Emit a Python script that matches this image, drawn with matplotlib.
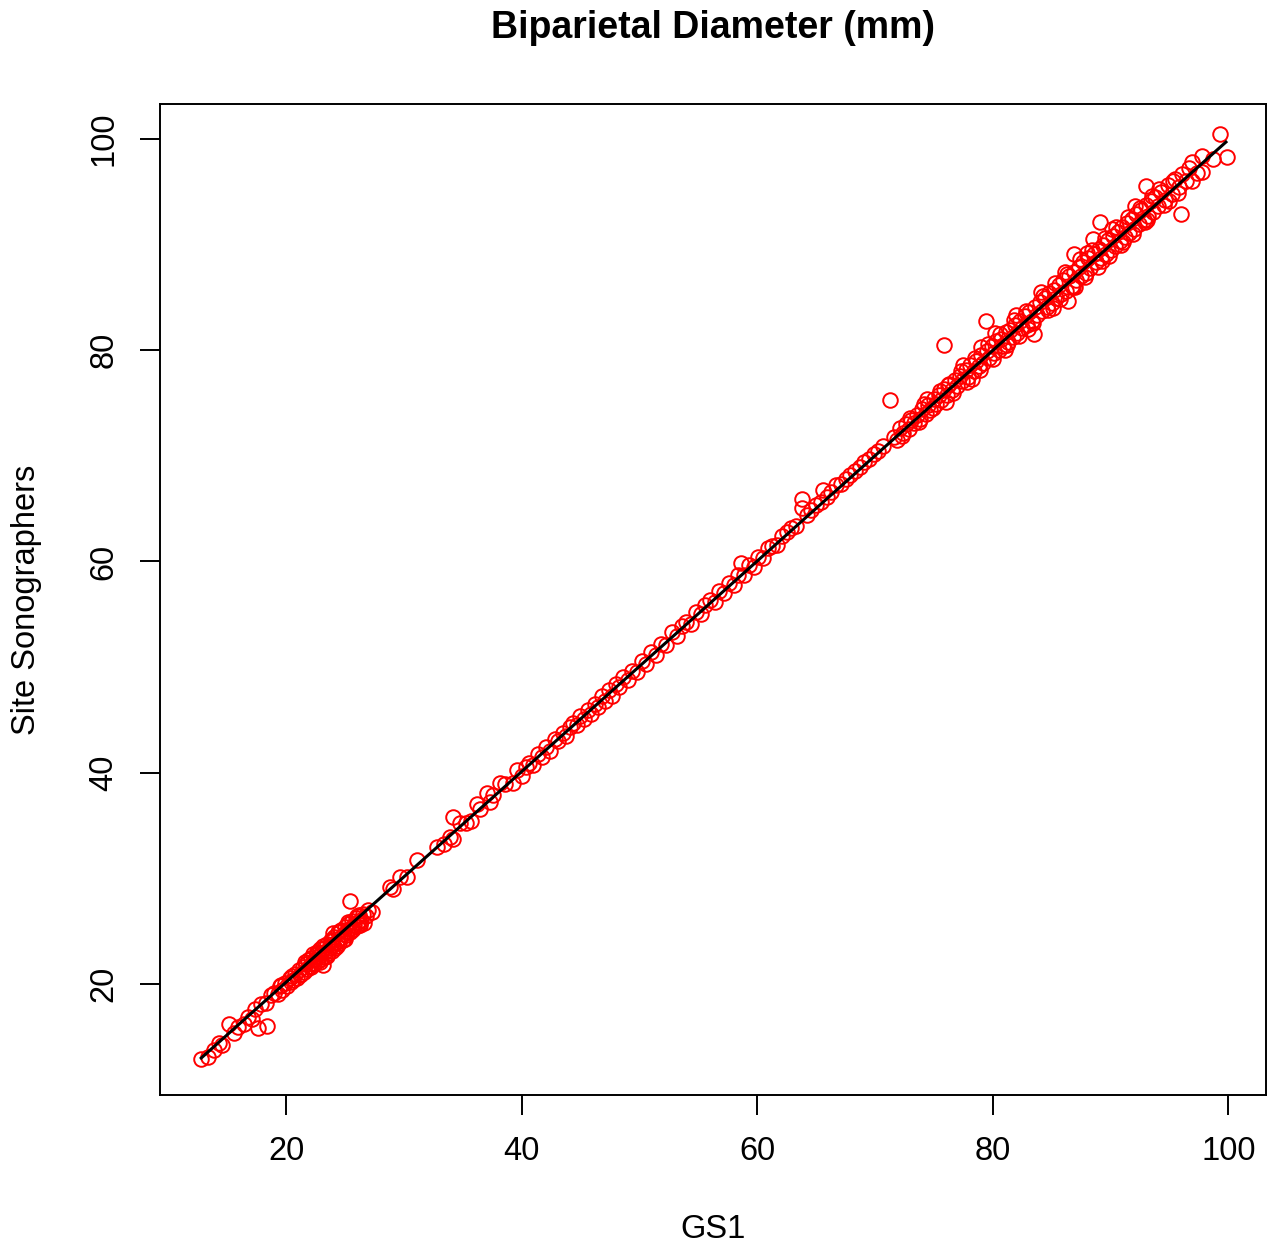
import numpy as np
import matplotlib
matplotlib.use("Agg")
import matplotlib.pyplot as plt

# first-trimester cluster (GS1 vs site sonographers, mm)
gs1_early = [12.8, 13.4, 13.9, 14.3, 14.6, 15.2, 15.6, 15.9, 16.4, 16.8,
             17.1, 17.4, 17.6, 17.9, 18.4, 18.3, 18.7, 19.0, 19.3, 19.5,
             19.7, 19.9, 20.1, 20.3, 20.4, 20.6, 20.8, 20.9, 21.1, 21.2,
             21.4, 21.5, 21.7, 21.8, 21.9, 22.0, 22.1, 22.2, 22.3, 22.4,
             22.5, 22.6, 22.7, 22.8, 22.9, 23.0, 23.0, 23.1, 23.2, 23.3,
             23.4, 23.5, 23.6, 23.7, 23.8, 23.9, 24.0, 24.1, 24.2, 24.3,
             24.4, 24.5, 24.6, 24.7, 24.8, 24.9, 25.0, 25.1, 25.2, 25.3,
             25.4, 25.4, 25.5, 25.6, 25.7, 25.8, 25.9, 26.0, 26.1, 26.2,
             26.3, 26.4, 26.5, 26.6, 26.8, 27.0, 27.3, 19.6, 20.5, 21.3,
             21.6, 22.1, 22.6, 23.1, 23.5, 23.9, 24.3, 24.6, 25.0, 25.3,
             25.6, 26.0, 26.3, 24.0, 22.9]
site_early = [12.9, 13.1, 13.8, 14.4, 14.2, 16.2, 15.4, 15.9, 16.2, 16.9,
              16.7, 17.6, 15.8, 18.1, 16.0, 18.2, 19.0, 19.2, 19.1, 19.8,
              19.4, 20.1, 19.8, 20.6, 20.2, 20.4, 21.0, 20.6, 21.3, 20.9,
              21.6, 21.1, 21.9, 21.4, 22.3, 21.7, 22.5, 22.0, 22.8, 21.9,
              22.4, 23.0, 22.2, 22.7, 23.3, 22.4, 22.9, 21.8, 23.4, 22.6,
              23.1, 23.8, 22.9, 23.4, 24.2, 23.1, 23.7, 24.5, 23.4, 24.0,
              24.9, 23.9, 24.4, 25.1, 24.2, 24.7, 25.4, 24.6, 25.0, 25.7,
              24.9, 27.9, 25.3, 26.0, 25.2, 25.6, 26.3, 25.5, 25.9, 26.5,
              25.6, 26.1, 26.6, 25.8, 26.4, 27.0, 26.8, 19.9, 20.8, 21.0,
              22.1, 21.6, 22.8, 23.6, 22.7, 24.1, 23.6, 25.0, 24.3, 25.9,
              25.1, 26.4, 25.8, 24.8, 22.1]

# second trimester
gs1_mid = [28.8, 29.1, 29.7, 30.3, 31.1, 32.8, 33.4, 33.9, 34.2, 34.2,
           34.8, 35.3, 35.7, 36.2, 36.5, 37.1, 37.3, 37.6, 38.2, 38.6,
           39.3, 39.6, 40.0, 40.4, 40.6, 41.0, 41.4, 41.7, 42.1, 42.4,
           42.8, 43.1, 43.5, 43.8, 44.1, 44.4, 44.7, 45.0, 45.3, 45.6,
           45.9, 46.2, 46.5, 46.8, 47.1, 47.4, 47.7, 48.0, 48.3, 48.6,
           49.0, 49.4, 49.8, 50.2, 50.6, 51.0, 51.4, 51.8, 52.3, 52.8,
           53.2, 53.6, 54.0, 54.4, 54.8, 55.2, 55.6, 56.0, 56.4, 56.8,
           57.2, 57.6, 58.0, 58.4, 58.6, 58.9, 59.3, 59.7, 60.1, 60.5,
           60.9, 61.3, 61.7, 62.1, 62.5, 62.9, 63.3, 63.8, 63.8, 64.2,
           64.6, 65.0, 65.4, 65.6, 65.9, 66.3, 66.7, 67.1, 67.5, 67.9,
           68.3, 68.7, 69.1, 69.5, 69.9, 70.3, 70.7]
site_mid = [29.2, 29.0, 30.1, 30.1, 31.7, 33.0, 33.3, 33.9, 33.7, 35.8,
            35.2, 35.2, 35.4, 37.0, 36.6, 38.1, 37.2, 37.9, 39.0, 38.9,
            39.0, 40.3, 39.7, 40.5, 40.9, 40.7, 41.8, 41.5, 42.4, 42.1,
            43.2, 43.0, 43.8, 43.5, 44.3, 44.7, 44.5, 45.4, 45.1, 45.9,
            45.6, 46.5, 46.2, 47.3, 46.8, 47.8, 47.3, 48.4, 48.1, 49.1,
            48.8, 49.6, 49.5, 50.6, 50.3, 51.4, 51.1, 52.2, 52.1, 53.3,
            52.9, 53.9, 54.3, 54.1, 55.2, 55.0, 55.9, 56.4, 56.2, 57.2,
            57.0, 58.0, 57.8, 58.7, 59.9, 58.7, 59.7, 59.5, 60.4, 60.3,
            61.3, 61.5, 61.6, 62.4, 62.8, 63.2, 63.4, 65.9, 65.1, 64.4,
            64.9, 65.3, 65.6, 66.8, 66.1, 66.6, 67.2, 67.3, 67.8, 68.2,
            68.6, 68.9, 69.4, 69.7, 70.2, 70.5, 70.9]

# third trimester
gs1_late = [71.3, 71.6, 71.9, 72.1, 72.4, 72.6, 72.9, 73.1, 73.3, 73.6,
            73.8, 74.0, 74.3, 74.5, 74.7, 75.0, 75.2, 75.4, 75.6, 75.9,
            75.9, 76.1, 76.3, 76.5, 76.8, 77.0, 77.2, 77.4, 77.7, 77.9,
            78.1, 78.4, 78.6, 78.8, 79.0, 79.2, 79.4, 79.5, 79.7, 79.9,
            80.1, 80.3, 80.5, 80.7, 80.9, 81.1, 81.3, 81.5, 81.7, 81.9,
            82.1, 82.3, 82.5, 82.7, 82.9, 83.1, 83.3, 83.5, 83.6, 83.8,
            84.0, 84.2, 84.4, 84.6, 84.8, 85.0, 85.2, 85.4, 85.6, 85.8,
            86.0, 86.2, 86.4, 86.5, 86.7, 86.9, 86.9, 87.1, 87.3, 87.5,
            87.7, 87.9, 88.1, 88.3, 88.5, 88.6, 88.8, 89.1, 89.0, 89.2,
            89.4, 89.6, 89.8, 90.0, 90.2, 90.4, 90.6, 90.8, 91.0, 91.2,
            91.4, 91.6, 91.8, 92.0, 92.2, 92.4, 92.6, 92.8, 93.0, 93.0,
            93.2, 93.4, 93.6, 93.8, 94.0, 94.3, 94.6, 94.9, 95.2, 95.5,
            95.8, 96.0, 96.1, 96.4, 96.7, 96.9, 96.9, 97.3, 97.8, 97.8,
            98.7, 99.3, 99.9, 80.2, 81.0, 82.0, 83.0, 84.1, 85.1, 86.1,
            87.0, 88.0, 89.3, 90.1, 91.1, 92.1, 93.1, 94.1, 95.0, 77.5,
            78.2, 79.0, 74.4, 76.0, 72.3, 73.0, 73.7, 74.2, 74.9, 75.5,
            76.2, 76.6, 77.3, 77.8, 78.5, 78.9, 79.6, 80.0, 80.6, 81.2,
            81.8, 82.2, 82.8, 83.4, 84.3, 84.7, 85.3, 85.7, 86.3, 86.8,
            87.4, 87.8, 88.4, 88.9, 89.5, 89.9, 90.5, 90.9, 91.5, 91.9,
            92.5, 92.9, 93.5, 94.5, 95.3, 95.7]
site_late = [75.3, 71.8, 71.5, 72.6, 72.2, 73.0, 72.5, 73.4, 73.1, 73.9,
             73.5, 74.4, 74.0, 74.8, 74.3, 75.4, 74.9, 75.8, 75.3, 80.5,
             76.3, 75.8, 76.8, 76.2, 77.2, 76.6, 77.6, 77.1, 78.1, 77.5,
             78.6, 78.0, 79.0, 78.5, 79.5, 78.8, 82.8, 79.9, 79.3, 80.4,
             79.7, 80.9, 80.0, 81.1, 80.4, 81.7, 80.8, 81.9, 81.2, 82.4,
             81.6, 82.8, 82.1, 83.2, 82.4, 83.6, 82.8, 81.5, 84.1, 83.3,
             84.6, 83.7, 84.9, 84.1, 85.4, 84.5, 85.7, 84.9, 86.2, 85.3,
             86.6, 85.6, 84.7, 87.0, 86.1, 89.1, 87.4, 86.6, 87.9, 87.0,
             88.3, 87.3, 88.7, 87.8, 90.5, 89.1, 88.3, 92.1, 89.6, 88.7,
             90.0, 89.1, 90.4, 89.5, 90.8, 89.9, 91.2, 90.3, 91.7, 90.7,
             92.0, 91.1, 92.4, 91.5, 92.9, 91.9, 93.3, 92.3, 95.5, 93.7,
             92.7, 94.1, 93.1, 94.5, 93.6, 95.0, 94.2, 95.6, 94.8, 96.2,
             95.4, 92.9, 96.7, 96.0, 97.2, 96.0, 97.8, 96.8, 98.4, 96.9,
             98.1, 100.5, 98.3, 81.6, 80.0, 83.3, 82.0, 85.5, 84.0, 87.4,
             86.0, 89.2, 88.4, 91.5, 90.2, 93.6, 92.3, 95.3, 94.1, 78.6,
             77.3, 80.3, 75.4, 75.1, 71.9, 73.6, 73.2, 74.9, 74.5, 76.1,
             76.7, 75.9, 78.0, 77.0, 79.3, 78.1, 80.6, 79.2, 81.5, 80.5,
             82.9, 81.3, 83.7, 82.6, 85.1, 83.8, 86.4, 84.8, 87.2, 86.0,
             88.6, 86.9, 89.5, 87.9, 90.6, 88.9, 91.7, 90.0, 92.6, 91.0,
             93.5, 92.1, 94.6, 93.7, 96.0, 94.9]

# fitted line end points
fit_x = [12.8, 99.8]
fit_y = [13.0, 99.7]

x_ticks = [20, 40, 60, 80, 100]
y_ticks = [20, 40, 60, 80, 100]

plt.rcParams["font.family"] = ["Liberation Sans", "DejaVu Sans"]

gs1 = np.array(gs1_early + gs1_mid + gs1_late)
site = np.array(site_early + site_mid + site_late)

fig = plt.figure(figsize=(12.8, 12.49), dpi=100)
ax = fig.add_axes([0.125, 0.1233, 0.86406, 0.79343])

ax.plot(gs1, site, "o", mfc="none", mec="red", ms=10.5, mew=1.4, linestyle="none")
ax.plot(fit_x, fit_y, color="black", lw=2.2)

ax.set_xlim(9.3, 103.2)
ax.set_ylim(9.5, 103.3)
ax.set_xticks(x_ticks)
ax.set_yticks(y_ticks)
ax.tick_params(direction="out", length=14.4, width=1.4, pad=15, labelsize=23.5)
ax.tick_params(axis="y", labelrotation=90)
for lab in ax.get_yticklabels():
    lab.set_va("center")
for sp in ax.spines.values():
    sp.set_linewidth(1.4)

fig.text(0.557, 0.9776, "Biparietal Diameter (mm)", ha="center", va="center",
         size=27, weight="bold")
fig.text(0.557, 1 - 1230 / 1249, "GS1", ha="center", va="center", size=23.5)
fig.text(0.021, 0.52, "Site Sonographers", ha="center", va="center",
         size=23.5, rotation=90)

fig.savefig("out.png", dpi=100, facecolor="white")
